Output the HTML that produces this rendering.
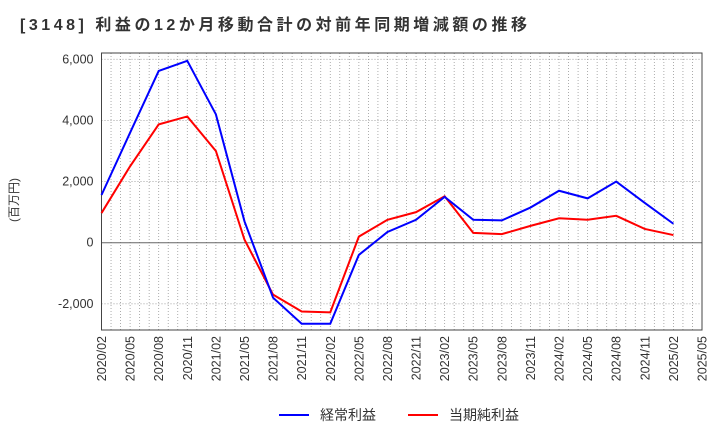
<!DOCTYPE html>
<html><head><meta charset="utf-8"><style>
body{margin:0;background:#fff;font-family:"Liberation Sans","Noto Sans CJK JP",sans-serif;}
svg text{font-family:"Liberation Sans","Noto Sans CJK JP",sans-serif;}
</style></head><body>
<svg id="c" width="720" height="440">
<text x="20" y="30" font-size="16" font-weight="bold" fill="#333" textLength="507" lengthAdjust="spacing">[3148]  利益の12か月移動合計の対前年同期増減額の推移</text>
<text transform="translate(18,200) rotate(-90)" font-size="12" fill="#333" text-anchor="middle">(百万円)</text>
<g id="grid"></g><g id="axes"></g><g id="series"></g>
<g>
<line x1="279" y1="415" x2="309" y2="415" stroke="#0000ff" stroke-width="2"/>
<text x="320" y="420" font-size="14" fill="#333">経常利益</text>
<line x1="408" y1="415" x2="438" y2="415" stroke="#ff0000" stroke-width="2"/>
<text x="449" y="420" font-size="14" fill="#333">当期純利益</text>
</g>
</svg>
<script>
const categories=["2020/02","2020/05","2020/08","2020/11","2021/02","2021/05","2021/08","2021/11","2022/02","2022/05","2022/08","2022/11","2023/02","2023/05","2023/08","2023/11","2024/02","2024/05","2024/08","2024/11","2025/02","2025/05"];
const ordinaryProfit=[1560,3600,5620,5950,4200,700,-1800,-2650,-2650,-400,350,750,1500,750,730,1150,1700,1450,2000,1300,620];
const netProfit=[970,2500,3870,4130,3000,100,-1700,-2250,-2280,200,750,1000,1520,320,280,550,800,750,880,450,250];
const yTicks=[-2000,0,2000,4000,6000];
const L=101.5,R=702,T=53,B=330;
const ns="http://www.w3.org/2000/svg";
const X=i=>L+(R-L)*i/(categories.length-1);
const Y=v=>242.7-(v)*(242.7-59.3)/6000;
function mk(tag,attrs,parent){const e=document.createElementNS(ns,tag);for(const k in attrs)e.setAttribute(k,attrs[k]);parent.appendChild(e);return e;}
const g=document.getElementById('grid'),a=document.getElementById('axes'),s=document.getElementById('series');
const months=(categories.length-1)*3;
for(let m=1;m<months;m++){const x=L+(R-L)*m/months;const ln=mk('line',{x1:x,x2:x,y1:T,y2:B,stroke:'#999','stroke-width':0.8,'stroke-dasharray':'1,2'},g);

}
yTicks.forEach(v=>{const y=Y(v);const ln=mk('line',{x1:L,x2:R,y1:y,y2:y,stroke:v===0?'#666':'#999','stroke-width':v===0?1:0.8,'stroke-dasharray':v===0?'':'1,2'},g);


const t=mk('text',{x:L-8,y:y+4,'font-size':12.5,fill:'#333','text-anchor':'end'},a);t.textContent=v.toLocaleString('en-US');

});
const fr=mk('rect',{x:L,y:T,width:R-L,height:B-T,fill:'none',stroke:'#444','stroke-width':1},a);


categories.forEach((c,i)=>{const x=X(i);const t=mk('text',{transform:`translate(${x+4.5},${B+6}) rotate(-90)`,'font-size':12.5,fill:'#333','text-anchor':'end'},a);t.textContent=c;

});
function line(data,color,name){const p=mk('polyline',{points:data.map((v,i)=>X(i)+','+Y(v)).join(' '),fill:'none',stroke:color,'stroke-width':2},s);

}
line(netProfit,'#ff0000','net-profit-line');
line(ordinaryProfit,'#0000ff','ordinary-profit-line');
</script>
</body></html>
